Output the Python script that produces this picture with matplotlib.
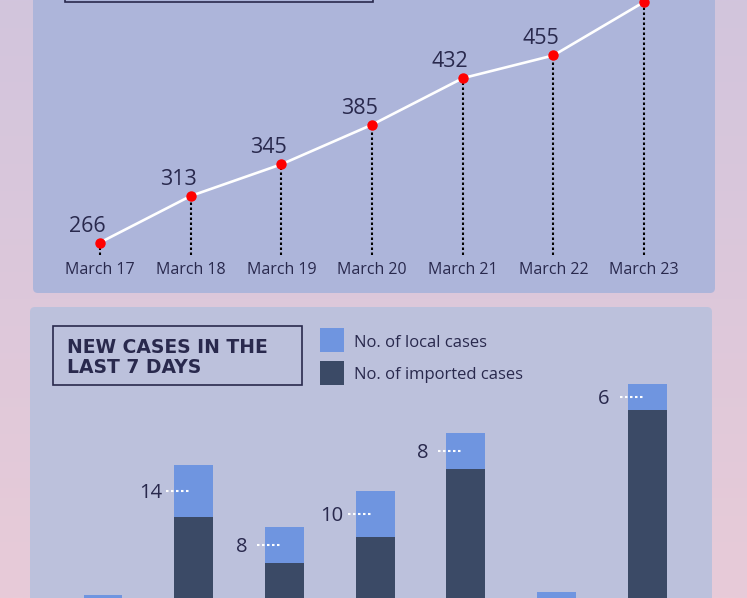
import numpy as np
import matplotlib.pyplot as plt
from matplotlib.patches import FancyBboxPatch, Rectangle
from matplotlib.colors import to_rgb

plt.rcParams['font.family'] = ['Open Sans', 'DejaVu Sans']

W, H = 747, 598

# total cases (line chart)
days = ['March 17', 'March 18', 'March 19', 'March 20', 'March 21', 'March 22', 'March 23']
total_cases = [266, 313, 345, 385, 432, 455, 509]

# new cases per day, bar segments
imported = [8, 27.3, 17.1, 22.9, 38.0, 8, 51.1]
local = [2, 11.6, 8.0, 10.2, 8.0, 2.7, 5.8]
local_labels = ['', '14', '8', '10', '8', '', '6']

navy = '#29294d'
light_blue = '#6f95e0'
dark_blue = '#3b4a66'

fig = plt.figure(figsize=(W / 100, H / 100), dpi=100)

# background + panels (pixel coords)
bg = fig.add_axes([0, 0, 1, 1], zorder=0)
t = np.linspace(0, 1, 256).reshape(-1, 1, 1)
c0 = np.array(to_rgb('#d2c5dd'))
c1 = np.array(to_rgb('#e8cbd8'))
img = c0 + (c1 - c0) * t
img = np.repeat(img, 2, axis=1)
bg.imshow(img, extent=[0, W, H, 0], aspect='auto')
bg.set_xlim(0, W)
bg.set_ylim(H, 0)
bg.axis('off')

bg.add_patch(FancyBboxPatch((33, -20), 682, 313, boxstyle='round,pad=0,rounding_size=5',
                            fc='#adb5da', ec='none'))
bg.add_patch(FancyBboxPatch((30, 307), 682, 330, boxstyle='round,pad=0,rounding_size=5',
                            fc='#bcc1dc', ec='none'))
bg.add_patch(Rectangle((65, -30), 308, 32, fill=False, ec=navy, lw=1.2))
bg.add_patch(Rectangle((53, 326), 249, 59, fill=False, ec=navy, lw=1.2))
bg.text(67, 347.5, 'NEW CASES IN THE', ha='left', va='center', fontsize=13.5,
        fontweight='bold', family='DejaVu Sans', color=navy)
bg.text(67, 367.5, 'LAST 7 DAYS', ha='left', va='center', fontsize=13.5,
        fontweight='bold', family='DejaVu Sans', color=navy)

# legend
bg.add_patch(Rectangle((320, 328), 24, 24, fc=light_blue, ec='none'))
bg.add_patch(Rectangle((320, 361), 24, 24, fc=dark_blue, ec='none'))
bg.text(354, 343, 'No. of local cases', ha='left', va='center', fontsize=12, color=navy)
bg.text(354, 375, 'No. of imported cases', ha='left', va='center', fontsize=12, color=navy)

x = np.arange(len(days))
step = 90.67

# line chart
ax1 = fig.add_axes([33 / W, (H - 293) / H, 682 / W, 293 / H], zorder=2)
ax1.patch.set_alpha(0)
ax1.set_xlim((33 - 100) / step, (715 - 100) / step)
ax1.set_ylim(215, 511)
ax1.axis('off')

ax1.vlines(x, 253.4, total_cases, colors='black', linestyles=(0, (1.2, 1.2)), lw=1.5, zorder=2)
ax1.plot(x, total_cases, color='white', lw=1.9, zorder=3)
ax1.plot(x, total_cases, 'o', color='#ff0000', ms=6.5, zorder=4)
for i, v in enumerate(total_cases):
    if i < len(total_cases) - 1:  # last label sits above the crop
        ax1.annotate(str(v), (i, v), xytext=(-12.5, 16.5), textcoords='offset pixels',
                     ha='center', va='center', fontsize=15.5, color=navy)
    ax1.text(i, 238.5, days[i], ha='center', va='center', fontsize=11.5, color=navy)

# stacked bars
base_px = 640
unit = 4.5
ax2 = fig.add_axes([30 / W, (H - base_px) / H, 682 / W, (base_px - 307) / H], zorder=2)
ax2.patch.set_alpha(0)
ax2.set_xlim((30 - 103) / step, (712 - 103) / step)
ax2.set_ylim(0, (base_px - 307) / unit)
ax2.axis('off')

ax2.bar(x, imported, width=0.43, color=dark_blue)
ax2.bar(x, local, bottom=imported, width=0.43, color=light_blue)
for i, lab in enumerate(local_labels):
    if not lab:
        continue
    mid = imported[i] + local[i] / 2
    ax2.plot([i - 0.3, i - 0.03], [mid, mid], color='white', ls=(0, (1.2, 1.2)), lw=1.5)
    ax2.annotate(lab, (i - 0.475, mid), xytext=(0, -2), textcoords='offset pixels',
                 ha='center', va='center', fontsize=14.5, color=navy)

fig.savefig('out.png', dpi=100)
